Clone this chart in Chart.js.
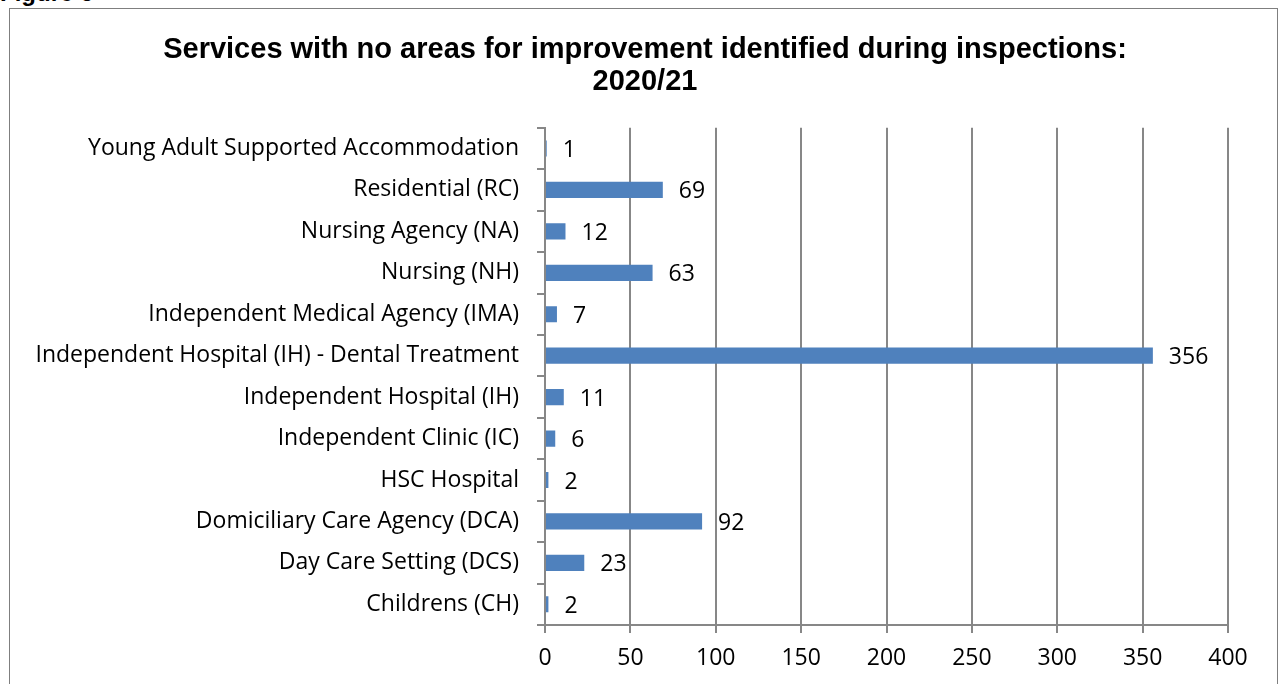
<!DOCTYPE html>
<html>
<head>
<meta charset="utf-8">
<script src="https://cdn.jsdelivr.net/npm/chart.js@4/dist/chart.umd.min.js"></script>
<style>
  body { margin: 0; background: #fff; overflow: hidden; }
  #fig { position: absolute; left: 0; top: -21px; font: bold 24px "Liberation Sans", Arial, sans-serif; color: #000; }
  #frame { position: absolute; left: 9px; top: 8px; width: 1267px; height: 700px; border: 1px solid #7f7f7f; }
  #c { position: absolute; left: 0; top: 0; }
</style>
</head>
<body>
<div id="fig">Figure 6</div>
<div id="frame"></div>
<canvas id="c" width="1280" height="684"></canvas>
<script>
// service types, top to bottom as in the figure
var categories = [
    "Young Adult Supported Accommodation",
    "Residential (RC)",
    "Nursing Agency (NA)",
    "Nursing (NH)",
    "Independent Medical Agency (IMA)",
    "Independent Hospital (IH) - Dental Treatment",
    "Independent Hospital (IH)",
    "Independent Clinic (IC)",
    "HSC Hospital",
    "Domiciliary Care Agency (DCA)",
    "Day Care Setting (DCS)",
    "Childrens (CH)"
];
var services = [1, 69, 12, 63, 7, 356, 11, 6, 2, 92, 23, 2];
var xTicks = [0, 50, 100, 150, 200, 250, 300, 350, 400];

var labelFont = '"Open Sans", sans-serif';
var labelSize = 23;

// value labels just past the end of each bar
var valueLabels = {
    id: 'valueLabels',
    afterDatasetsDraw: function(chart) {
        var ctx = chart.ctx;
        var meta = chart.getDatasetMeta(0);
        ctx.save();
        ctx.font = labelSize + 'px ' + labelFont;
        ctx.fillStyle = '#000';
        ctx.textBaseline = 'middle';
        ctx.textAlign = 'left';
        meta.data.forEach(function(bar, i) {
            ctx.fillText(String(services[i]), bar.x + 16, bar.y + 2);
        });
        ctx.restore();
    }
};

// centre the title on the frame rather than on the padded area
var centreTitle = {
    id: 'centreTitle',
    afterLayout: function(chart) {
        if (chart.titleBlock) chart.titleBlock.left = 62;
    }
};

new Chart(document.getElementById('c').getContext('2d'), {
    type: 'bar',
    data: {
        labels: categories,
        datasets: [{
            data: services,
            backgroundColor: '#4F81BD',
            borderWidth: 0,
            categoryPercentage: 1,
            barPercentage: 0.39
        }]
    },
    plugins: [valueLabels, centreTitle],
    options: {
        indexAxis: 'y',
        responsive: false,
        animation: false,
        layout: { padding: { top: 22, right: 52, bottom: 11, left: 0 } },
        plugins: {
            legend: { display: false },
            tooltip: { enabled: false },
            title: {
                display: true,
                text: ['Services with no areas for improvement identified during inspections:', '2020/21'],
                color: '#000',
                font: { family: '"Liberation Sans", Arial, sans-serif', size: 29, weight: 'bold', lineHeight: 1.1 },
                padding: { top: 12, bottom: 30 }
            }
        },
        scales: {
            x: {
                min: 0,
                max: 400,
                afterBuildTicks: function(axis) {
                    axis.ticks = xTicks.map(function(v) { return { value: v }; });
                },
                afterFit: function(axis) { axis.height = 48; },
                grid: { color: '#878787', lineWidth: 2, tickLength: 8, drawTicks: true },
                border: { color: '#878787', width: 2 },
                ticks: { color: '#000', padding: 12, maxRotation: 0, font: { family: labelFont, size: labelSize } }
            },
            y: {
                afterFit: function(axis) { axis.width = 545; },
                grid: { drawOnChartArea: false, color: '#878787', lineWidth: 2, tickLength: 8, offset: true },
                border: { color: '#878787', width: 2 },
                ticks: { color: '#000', padding: 18, autoSkip: false, font: { family: labelFont, size: labelSize } }
            }
        }
    }
});
</script>
</body>
</html>
